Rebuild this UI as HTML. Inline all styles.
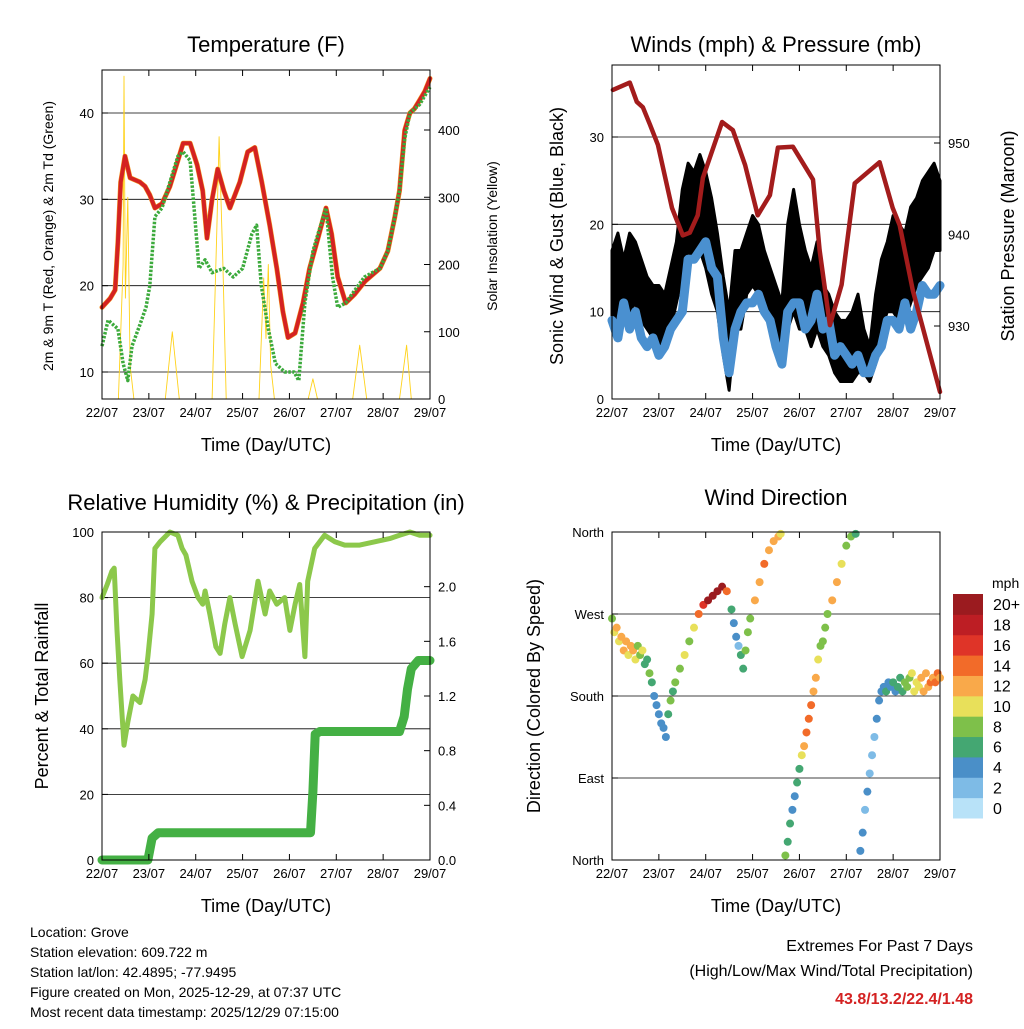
<!DOCTYPE html>
<html><head><meta charset="utf-8"><style>
body{margin:0;background:#fff}
svg text{font-family:"Liberation Sans",sans-serif;fill:#000}
</style></head><body>
<svg id="c" width="1024" height="1024" viewBox="0 0 1024 1024" xmlns="http://www.w3.org/2000/svg">
<rect width="1024" height="1024" fill="#fff"/>
</svg>
<script>
// ---------- data ----------
const dayLabels=["22/07","23/07","24/07","25/07","26/07","27/07","28/07","29/07"];
const tempTicks=[10,20,30,40];
const solarTicks=[0,100,200,300,400];
const windTicks=[0,10,20,30];
const pressTicks=[930,940,950];
const rhTicks=[0,20,40,60,80,100];
const rainTicks=[0,0.4,0.8,1.2,1.6,2.0];
const rainTickLabels=["0.0","0.4","0.8","1.2","1.6","2.0"];
const dirTicks=[0,90,180,270,360];
const dirTickLabels=["North","East","South","West","North"];
const speedBins=["0","2","4","6","8","10","12","14","16","18","20+"];
const speedColors=["#b8e2f8","#7ebbe6","#4a8fc8","#44a772","#7ec04a","#e8e05a","#f9a94a","#f26b29","#df3428","#bd1e24","#9b1b1f"];

const tempT=[[0,17.5],[0.17,18.5],[0.28,19.5],[0.34,25],[0.4,32],[0.49,35],[0.6,32.5],[0.81,32],[0.92,31.5],[1.02,30.5],[1.13,29],[1.28,29.5],[1.45,31.5],[1.62,34.5],[1.73,36.5],[1.88,36.5],[2.03,34],[2.15,31],[2.24,25.5],[2.35,30],[2.47,33.5],[2.6,31],[2.73,29],[2.94,32],[3.11,35.5],[3.26,36],[3.41,32],[3.58,27],[3.73,22],[3.86,17],[3.97,14],[4.12,14.5],[4.29,18],[4.43,22],[4.61,25.5],[4.78,29],[4.9,26],[5.03,21],[5.2,18],[5.39,19],[5.61,20.5],[5.93,22],[6.1,24],[6.25,28],[6.35,31],[6.46,38],[6.57,40],[6.67,40.5],[6.78,41.5],[6.89,42.5],[7,44]];
const tempTd=[[0,13],[0.13,16],[0.34,15],[0.45,11],[0.55,9],[0.64,13],[0.81,15.5],[0.94,17.5],[1.02,20],[1.13,28],[1.28,29],[1.45,32],[1.62,35],[1.73,35.5],[1.88,34.5],[1.98,28],[2.07,22],[2.2,23],[2.35,21.5],[2.6,22],[2.8,21],[3.0,22],[3.2,26],[3.3,27],[3.4,20],[3.55,15],[3.7,11],[3.9,10],[4.1,10],[4.2,9],[4.33,18],[4.5,24],[4.61,26],[4.78,29],[4.92,21],[5.03,17.5],[5.2,18],[5.4,19.5],[5.6,21],[5.93,22],[6.1,24],[6.25,28],[6.35,31],[6.46,37],[6.57,40],[6.78,41],[7,43]];
const solar=[[0,0],[0.35,0],[0.45,200],[0.47,480],[0.5,150],[0.55,300],[0.6,50],[0.68,0],[1.35,0],[1.5,100],[1.65,0],[2.35,0],[2.45,250],[2.5,390],[2.58,200],[2.65,0],[3.35,0],[3.45,180],[3.5,90],[3.55,200],[3.6,50],[3.68,0],[4.4,0],[4.5,30],[4.6,0],[5.35,0],[5.5,80],[5.65,0],[6.35,0],[6.5,80],[6.6,0],[7,0]];

const windSpd=[9,7,11,8,10,7,6,7, 5,6,8,9,10,16,16,17, 18,15,14,7,3,8,10,11, 11,12,10,9,6,4,10,11, 11,8,9,12,8,9,5,6, 5,4,5,3,3,5,6,9, 9,8,11,8,10,13,12,12,13];
const gustHigh=[17,19,16,19,18,16,14,13, 13,12,15,18,24,27,26,28, 26,23,19,14,10,17,17,19, 21,20,17,15,13,11,20,24, 20,17,15,18,13,12,10,9, 9,10,12,8,6,12,16,18, 21,20,19,22,23,25,26,27,25];
const gustLow=[9,9,9,10,11,9,8,7, 6,7,8,11,14,17,16,17, 15,12,10,5,1,8,8,12, 13,12,10,8,7,4,8,10, 8,8,6,8,6,5,3,2, 2,2,3,3,2,4,8,10, 10,9,9,11,13,14,15,17,17];
const pressure=[[0.02,955.8],[0.38,956.6],[0.53,954.5],[0.66,953.9],[0.81,952],[0.98,949.8],[1.28,942.9],[1.51,939.9],[1.66,940.2],[1.83,942.1],[1.94,946.2],[2.35,952.3],[2.58,951.4],[2.84,947.6],[3.11,942.1],[3.37,944.3],[3.54,949.5],[3.86,949.6],[4.29,946],[4.43,938.3],[4.65,930.1],[4.9,934.5],[5.18,945.6],[5.71,947.9],[5.99,942.9],[6.14,941],[6.42,933.9],[7,922.8]];

const dirT=[0,0.05,0.1,0.15,0.2,0.25,0.3,0.35,0.4,0.45,0.5,0.55,0.6,0.65,0.7,0.75,0.8,0.85,0.9,0.95,1.0,1.05,1.1,1.15,1.2,1.25,1.3,1.35,1.45,1.55,1.65,1.75,1.85,1.95,2.05,2.15,2.25,2.35,2.45,2.55,2.6,2.65,2.7,2.75,2.8,2.85,2.9,2.95,3.05,3.15,3.25,3.35,3.45,3.55,3.6,3.7,3.75,3.8,3.85,3.9,3.95,4.0,4.05,4.1,4.15,4.2,4.25,4.3,4.35,4.4,4.45,4.5,4.55,4.6,4.7,4.8,4.9,5.0,5.1,5.2,5.3,5.35,5.4,5.45,5.5,5.55,5.6,5.65,5.7,5.75,5.8,5.85,5.9,5.95,6.0,6.05,6.1,6.15,6.2,6.25,6.3,6.35,6.4,6.45,6.5,6.55,6.6,6.65,6.7,6.75,6.8,6.85,6.9,6.95,7.0];
const dirDeg=[265,250,255,240,245,230,240,225,235,230,220,235,225,230,215,220,205,195,180,170,160,150,145,135,160,175,185,195,210,225,240,255,270,280,285,290,295,300,295,275,260,245,235,225,210,230,250,265,285,305,325,340,350,355,358,5,20,40,55,70,85,100,115,125,140,155,170,185,200,220,235,240,255,270,285,305,325,345,355,358,10,30,55,75,95,115,135,155,175,185,190,185,195,190,195,185,190,200,185,195,190,200,205,185,195,190,200,185,205,190,195,200,195,205,200];
const dirSpd=[8,9,11,10,12,11,12,10,12,11,9,8,7,9,6,5,7,5,4,4,4,3,4,4,5,7,6,7,8,9,8,10,13,16,19,20,21,19,14,5,4,3,2,6,6,7,7,8,11,12,13,12,11,12,10,7,6,5,4,4,5,6,9,11,13,14,13,12,11,9,8,7,7,7,12,12,9,8,7,5,4,3,2,3,2,1,2,3,3,4,4,5,4,3,5,4,5,6,6,7,7,8,9,10,9,10,11,12,12,11,13,12,13,13,12];

const rh=[[0,80],[0.11,84],[0.21,88],[0.26,89],[0.32,70],[0.38,55],[0.47,35],[0.55,42],[0.66,50],[0.81,48],[0.92,55],[0.98,62],[1.07,75],[1.13,95],[1.24,97],[1.45,100],[1.62,99],[1.71,95],[1.79,93],[1.92,85],[2.05,80],[2.15,78],[2.2,82],[2.3,75],[2.43,65],[2.52,63],[2.62,72],[2.73,80],[2.84,72],[2.99,62],[3.16,70],[3.33,85],[3.48,75],[3.58,82],[3.73,78],[3.9,80],[4.01,70],[4.12,78],[4.22,84],[4.33,62],[4.39,85],[4.54,95],[4.75,99],[4.97,97],[5.18,96],[5.5,96],[5.82,97],[6.14,98],[6.35,99],[6.57,100],[6.78,99],[7,99]];
const rain=[[0,0],[0.98,0],[1.07,0.16],[1.2,0.2],[4.45,0.2],[4.5,0.5],[4.55,0.92],[4.65,0.94],[6.35,0.94],[6.45,1.05],[6.52,1.25],[6.6,1.4],[6.75,1.46],[7,1.46]];

// ---------- drawing ----------
const svg=document.getElementById('c');
const NS="http://www.w3.org/2000/svg";
function mk(tag,attrs,parent){const e=document.createElementNS(NS,tag);for(const k in attrs)e.setAttribute(k,attrs[k]);(parent||svg).appendChild(e);return e;}
function txt(s,x,y,size,anchor,parent,extra){const t=mk('text',Object.assign({x:x,y:y,'font-size':size,'text-anchor':anchor||'middle'},extra||{}),parent);t.textContent=s;return t;}
function lin(d0,d1,r0,r1){return v=>r0+(v-d0)/(d1-d0)*(r1-r0);}

function panel(name,x0,x1,y0,y1){
  const g=mk('g',{});
  
  
  const xs=lin(0,7,x0,x1);
  return {g,xs,x0,x1,y0,y1};
}
function frame(p){
  const r=mk('rect',{x:p.x0,y:p.y0,width:p.x1-p.x0,height:p.y1-p.y0,fill:'none',stroke:'#000','stroke-width':1},p.g);
  
  
}
function xAxis(p,title){
  const g=mk('g',{},p.g);
  
  
  dayLabels.forEach((l,i)=>{const x=p.xs(i);
    mk('line',{x1:x,x2:x,y1:p.y1,y2:p.y1-6,stroke:'#000'},g);
    mk('line',{x1:x,x2:x,y1:p.y0,y2:p.y0+6,stroke:'#000'},g);
    txt(l,x,p.y1+18,13,'middle',g);});
  const t=txt(title,(p.x0+p.x1)/2,p.y1+52,18,'middle',g);
  
  
}
function yAxis(p,ys,ticks,labels,side,grid){
  const g=mk('g',{},p.g);
  
  
  ticks.forEach((v,i)=>{const y=ys(v);
    if(grid) mk('line',{x1:p.x0,x2:p.x1,y1:y,y2:y,stroke:'#000','stroke-width':0.8},g);
    if(side==='left'){mk('line',{x1:p.x0,x2:p.x0+6,y1:y,y2:y,stroke:'#000'},g);txt(labels[i],p.x0-8,y+5,13,'end',g);}
    else{mk('line',{x1:p.x1,x2:p.x1-6,y1:y,y2:y,stroke:'#000'},g);txt(labels[i],p.x1+8,y+5,13,'start',g);}
  });
}
function yTitle(p,s,x,cy,size,name){
  const t=txt(s,x,cy,size,'middle',p.g,{transform:`rotate(-90 ${x} ${cy})`});
  
  
}
function title(p,s,y){const t=txt(s,(p.x0+p.x1)/2,y,22,'middle',p.g);
  
  }
function path(p,pts,xs,ys,style,name){
  const d=pts.map((q,i)=>(i?'L':'M')+xs(q[0]).toFixed(1)+' '+ys(q[1]).toFixed(1)).join(' ');
  const e=mk('path',Object.assign({d:d,fill:'none','stroke-linejoin':'round','stroke-linecap':'round'},style),p.g);
  
  
  return e;
}

// Panel 1 Temperature
{const p=panel('temperature-panel',102,430,70,399);
 const ys=lin(10,40,372,113), ysol=lin(0,400,399,130);
 yAxis(p,ys,tempTicks,tempTicks.map(String),'left',true);
 yAxis(p,ysol,solarTicks,solarTicks.map(String),'right',false);
 path(p,solar,p.xs,ysol,{stroke:'#ffd21a','stroke-width':0.9},'solar-line');
 path(p,tempT,p.xs,ys,{stroke:'#f39a20','stroke-width':5},'temp-9m-line');
 path(p,tempT,p.xs,ys,{stroke:'#d42222','stroke-width':4},'temp-2m-line');
 path(p,tempTd,p.xs,ys,{stroke:'#3caa3c','stroke-width':3.5,'stroke-dasharray':'2.5 1.5','stroke-linecap':'butt'},'dewpoint-line');
 frame(p);xAxis(p,'Time (Day/UTC)');title(p,'Temperature (F)',52);
 yTitle(p,'2m & 9m T (Red, Orange) & 2m Td (Green)',53,236,14,'y-axis-title-left');
 yTitle(p,'Solar Insolation (Yellow)',497,236,14,'y-axis-title-right');}

// Panel 2 Winds
{const p=panel('winds-panel',612,940,65,399);
 const ys=lin(0,30,399,137), yp=lin(930,950,326,143);
 yAxis(p,ys,windTicks,windTicks.map(String),'left',true);
 yAxis(p,yp,pressTicks,pressTicks.map(String),'right',false);
 const n=gustHigh.length;
 const up=gustHigh.map((v,i)=>(i?'L':'M')+p.xs(i*7/(n-1)).toFixed(1)+' '+ys(v).toFixed(1)).join(' ');
 const dn=gustLow.map((v,i)=>'L'+p.xs(i*7/(n-1)).toFixed(1)+' '+ys(v).toFixed(1)).reverse().join(' ');
 const band=mk('path',{d:up+' '+dn+' Z',fill:'#000',stroke:'#000','stroke-width':3,'stroke-linejoin':'round'},p.g);
 
 
 const wp=windSpd.map((v,i)=>[i*7/(windSpd.length-1),v]);
 path(p,wp,p.xs,ys,{stroke:'#4a90d0','stroke-width':9},'wind-series');
 path(p,pressure,p.xs,yp,{stroke:'#a31c1c','stroke-width':4.5},'pressure-line');
 frame(p);xAxis(p,'Time (Day/UTC)');title(p,'Winds (mph) & Pressure (mb)',52);
 yTitle(p,'Sonic Wind & Gust (Blue, Black)',563,236,18,'y-axis-title-left');
 yTitle(p,'Station Pressure (Maroon)',1014,236,18,'y-axis-title-right');}

// Panel 3 RH
{const p=panel('humidity-panel',102,430,532,860);
 const ys=lin(0,100,860,532), yr=lin(0,2.4,860,532);
 yAxis(p,ys,rhTicks,rhTicks.map(String),'left',true);
 yAxis(p,yr,rainTicks,rainTickLabels,'right',false);
 path(p,rh,p.xs,ys,{stroke:'#8cc84b','stroke-width':5},'rh-line');
 path(p,rain,p.xs,yr,{stroke:'#44b044','stroke-width':9},'rain-line');
 frame(p);xAxis(p,'Time (Day/UTC)');title(p,'Relative Humidity (%) & Precipitation (in)',510);
 yTitle(p,'Percent & Total Rainfall',48,696,18,'y-axis-title-left');}

// Panel 4 Wind direction
{const p=panel('wind-direction-panel',612,940,532,860);
 const ys=lin(0,360,860,532);
 yAxis(p,ys,dirTicks,dirTickLabels,'left',true);
 dirT.forEach((t,i)=>{const b=Math.min(10,Math.round(dirSpd[i]/2));
  const c=mk('circle',{cx:p.xs(t),cy:ys(dirDeg[i]),r:4,fill:speedColors[b]},p.g);
  
  });
 frame(p);xAxis(p,'Time (Day/UTC)');title(p,'Wind Direction',505);
 yTitle(p,'Direction (Colored By Speed)',540,696,18,'y-axis-title-left');
 const cb=mk('g',{});
 
 
 const bh=(818-594)/speedBins.length;
 speedBins.forEach((l,i)=>{const j=speedBins.length-1-i;const y=594+j*bh;
  mk('rect',{x:953,y:y,width:30,height:bh+0.5,fill:speedColors[i]},cb);
  txt(l,993,y+bh/2+6,16,'start',cb);});
 txt('mph',992,588,14,'start',cb);}

// Info text
const info=["Location: Grove","Station elevation: 609.722 m","Station lat/lon: 42.4895; -77.9495","Figure created on Mon, 2025-12-29, at 07:37 UTC","Most recent data timestamp: 2025/12/29 07:15:00"];
const ig=mk('g',{});


info.forEach((s,i)=>txt(s,30,937+i*20,14,'start',ig));
const eg=mk('g',{});


txt('Extremes For Past 7 Days',973,951,16,'end',eg);
txt('(High/Low/Max Wind/Total Precipitation)',973,976,16,'end',eg);
txt('43.8/13.2/22.4/1.48',973,1004,16,'end',eg,{'font-weight':'bold',style:'fill:#d42222'});
</script>
</body></html>
